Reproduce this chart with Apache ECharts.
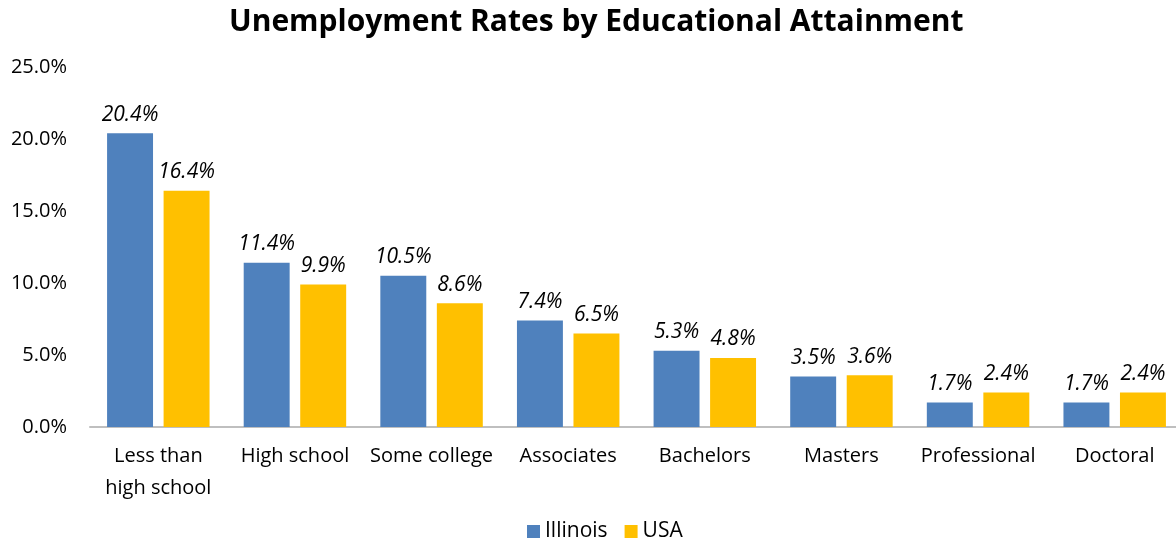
<!DOCTYPE html>
<html><head><meta charset="utf-8">
<script src="https://cdn.jsdelivr.net/npm/echarts@6/dist/echarts.min.js"></script>
<style>html,body{margin:0;padding:0;background:#fff;overflow:hidden}#c{width:1183px;height:543px}</style>
</head><body><div id="c"></div>
<script>
const categories = ['Less than\nhigh school','High school','Some college','Associates','Bachelors','Masters','Professional','Doctoral'];
const illinois = [20.4, 11.4, 10.5, 7.4, 5.3, 3.5, 1.7, 1.7];
const usa = [16.4, 9.9, 8.6, 6.5, 4.8, 3.6, 2.4, 2.4];
const seriesNames = ['Illinois', 'USA'];
const FONT = 'Open Sans';
const chart = echarts.init(document.getElementById('c'));
const lbl = {show:true, position:'top', distance:8, fontStyle:'italic', fontFamily:FONT, fontSize:21, color:'#000', formatter: p => p.value.toFixed(1) + '%'};
chart.setOption({
  animation:false,
  title:{text:'Unemployment Rates by Educational Attainment', left:224, top:2,
    textStyle:{fontFamily:FONT, fontWeight:'bold', fontSize:30, color:'#000'}},
  legend:{bottom:-4, left:522, itemWidth:13, itemHeight:13, itemGap:17, icon:'rect',
    textStyle:{fontFamily:FONT, fontSize:21, color:'#000'}, data:seriesNames},
  grid:{left:90, right:0, top:67, bottom:116, containLabel:false},
  xAxis:{type:'category', data:categories,
    axisLine:{lineStyle:{color:'#BFBFBF', width:2}}, axisTick:{show:false},
    axisLabel:{fontFamily:FONT, fontSize:20, color:'#000', margin:13, lineHeight:32, interval:0}},
  yAxis:{type:'value', min:0, max:25, interval:5,
    axisLine:{show:false}, axisTick:{show:false}, splitLine:{show:false},
    axisLabel:{fontFamily:FONT, fontSize:20, color:'#000', margin:23, formatter: v => v.toFixed(1) + '%'}},
  series:[
    {name:seriesNames[0], type:'bar', data:illinois, itemStyle:{color:'#4F81BD'}, barGap:'23%', barCategoryGap:'25%', label:lbl},
    {name:seriesNames[1], type:'bar', data:usa, itemStyle:{color:'#FFC000'}, label:lbl}
  ]
});
</script></body></html>
